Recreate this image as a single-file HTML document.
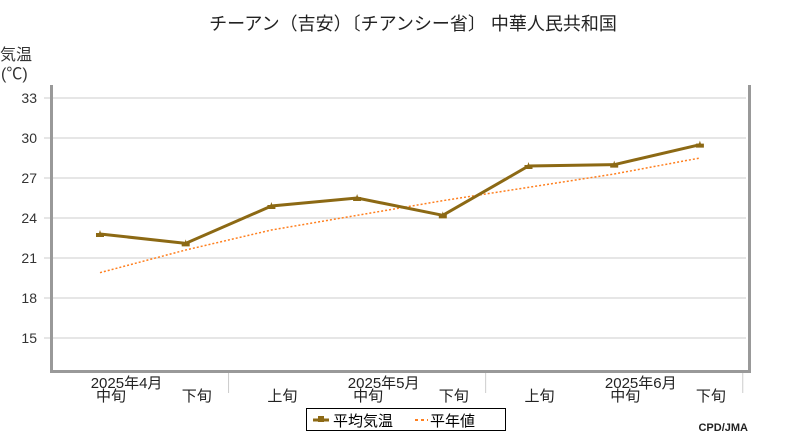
<!DOCTYPE html>
<html><head><meta charset="utf-8"><style>
body{margin:0;background:#fff;}
svg text{font-family:"Liberation Sans","Noto Sans CJK JP",sans-serif;}
</style></head><body>
<svg width="800" height="440" xmlns="http://www.w3.org/2000/svg">
<text x="413" y="30" font-size="18" text-anchor="middle" fill="#222">チーアン（吉安）〔チアンシー省〕 中華人民共和国</text>
<text x="0" y="60" font-size="16" fill="#333">気温</text>
<text x="1" y="79" font-size="16" fill="#333">(℃)</text>
<g id="grid"></g>
<g id="xaxis"></g>
<rect x="50" y="85" width="3" height="288" fill="#999"/>
<rect x="748" y="85" width="3" height="288" fill="#999"/>
<rect x="50" y="370" width="701" height="3" fill="#999"/>
<g id="series"></g>
<g>
<rect x="306.5" y="408.5" width="199" height="22" fill="#fff" stroke="#000"/>
<line x1="313" y1="420" x2="329" y2="420" stroke="#8c6914" stroke-width="3"/>
<rect x="318" y="416" width="6" height="6" fill="#8c6914"/>
<text x="333" y="426" font-size="15">平均気温</text>
<line x1="415" y1="420" x2="428" y2="420" stroke="#ff7f1e" stroke-width="2" stroke-dasharray="3,3"/>
<text x="430" y="426" font-size="15">平年値</text>
</g>
<text x="748" y="431" font-size="11" font-weight="bold" text-anchor="end" fill="#222" font-family="Liberation Mono">CPD/JMA</text>
</svg>
<script>
const categories=["中旬","下旬","上旬","中旬","下旬","上旬","中旬","下旬"];
const monthLabels=["2025年4月","2025年5月","2025年6月"];
const monthCenters=[0.1,3.1,6.1];
const meanTemp=[22.8,22.1,24.9,25.5,24.2,27.9,28.0,29.5];
const normalTemp=[19.9,21.6,23.1,24.2,25.3,26.3,27.3,28.5];
const yTicks=[15,18,21,24,27,30,33];
const NS="http://www.w3.org/2000/svg";
const xS=i=>100+i*85.7;
const yS=v=>98+(33-v)*40/3;
function mk(tag,attrs,parent){const e=document.createElementNS(NS,tag);for(const k in attrs)e.setAttribute(k,attrs[k]);parent.appendChild(e);return e;}
const grid=document.getElementById('grid'),xa=document.getElementById('xaxis'),se=document.getElementById('series');
yTicks.forEach(t=>{
 const l=mk('line',{x1:44,x2:746,y1:yS(t),y2:yS(t),stroke:'#ccc','stroke-width':1},grid);
 
 
 const tx=mk('text',{x:37,y:yS(t)+5,'font-size':14,'text-anchor':'end',fill:'#333'},grid);
 tx.textContent=t;
 
 
});
categories.forEach((c,i)=>{
 const t=mk('text',{x:xS(i)+11,y:401,'font-size':15,'text-anchor':'middle',fill:'#222'},xa);
 t.textContent=c;
 
 
});
[1.5,4.5,7.5].forEach(p=>{
 const l=mk('line',{x1:xS(p),x2:xS(p),y1:373,y2:393,stroke:'#ccc'},xa);
 
 
});
monthLabels.forEach((m,i)=>{
 const t=mk('text',{x:xS(monthCenters[i])+18,y:388,'font-size':15,'text-anchor':'middle',fill:'#222'},xa);
 t.textContent=m;
 
 
});
const np=mk('polyline',{points:normalTemp.map((v,i)=>xS(i)+','+yS(v)).join(' '),fill:'none',stroke:'#ff7f1e','stroke-width':1.5,'stroke-dasharray':'2,2'},se);


const mp=mk('polyline',{points:meanTemp.map((v,i)=>xS(i)+','+yS(v)).join(' '),fill:'none',stroke:'#8c6914','stroke-width':3},se);


meanTemp.forEach((v,i)=>{
 const p=mk('path',{d:`M${xS(i)-4},${yS(v)+3}L${xS(i)+4},${yS(v)+3}L${xS(i)+4},${yS(v)-1}L${xS(i)+1},${yS(v)-1}L${xS(i)},${yS(v)-4}L${xS(i)-1},${yS(v)-1}L${xS(i)-4},${yS(v)-1}Z`,fill:'#8c6914'},se);
 
 
});
</script>
</body></html>
